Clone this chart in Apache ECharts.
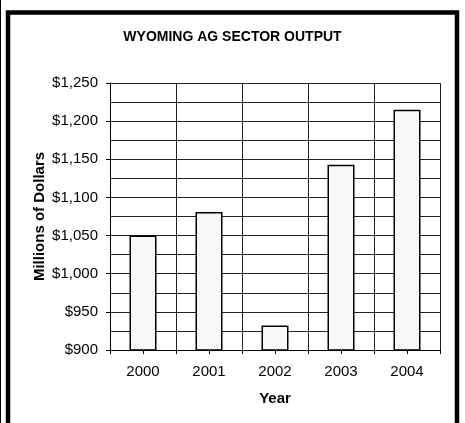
<!DOCTYPE html>
<html><head><meta charset="utf-8">
<script src="https://cdn.jsdelivr.net/npm/echarts@6/dist/echarts.min.js"></script>
<style>html,body{margin:0;padding:0;background:#fff;}#c{width:465px;height:423px;}</style>
</head><body><div id="c"></div>
<script>
const years = ['2000','2001','2002','2003','2004'];
const output = [1050, 1081, 932, 1143, 1215];
const yTicks = [900, 950, 1000, 1050, 1100, 1150, 1200, 1250];

const chart = echarts.init(document.getElementById('c'), null, {renderer:'canvas'});
const fmt = v => '$' + v.toLocaleString('en-US');
chart.setOption({
  animation:false,
  backgroundColor:'#fff',
  textStyle:{fontFamily:'Liberation Sans, Arial, sans-serif'},
  title:{text:'WYOMING AG SECTOR OUTPUT', left:'center', top:25,
    textStyle:{fontSize:14, fontWeight:'bold', color:'#000', fontFamily:'Liberation Sans, Arial, sans-serif'}},
  grid:{left:110, right:25, top:83, bottom:73, containLabel:false},
  xAxis:[{
    type:'category', data:years, position:'bottom',
    axisLine:{show:true, lineStyle:{color:'#000', width:1}},
    axisTick:{show:true, length:4, lineStyle:{color:'#000'}},
    axisLabel:{show:true, fontSize:15, color:'#000', margin:14},
    splitLine:{show:true, lineStyle:{color:'#222', width:1}},
    name:'Year', nameLocation:'middle', nameGap:41, nameMoveOverlap:false,
    nameTextStyle:{fontSize:15, fontWeight:'bold', color:'#000'}
  },{
    type:'category', data:years, position:'bottom',
    axisLine:{show:false}, axisLabel:{show:false}, splitLine:{show:false},
    axisTick:{show:true, alignWithLabel:true, length:4, lineStyle:{color:'#000'}}
  }],
  yAxis:{
    type:'value', min:yTicks[0], max:yTicks[yTicks.length-1], interval:50,
    axisLine:{show:true, lineStyle:{color:'#000'}},
    axisTick:{show:true, length:4, lineStyle:{color:'#000'}},
    axisLabel:{fontSize:15, color:'#000', margin:12, formatter:fmt},
    splitLine:{show:true, lineStyle:{color:'#222', width:1}},
    minorTick:{show:false, splitNumber:2},
    minorSplitLine:{show:true, lineStyle:{color:'#222', width:1}},
    name:'Millions of Dollars', nameLocation:'middle', nameGap:63, nameRotate:90, nameMoveOverlap:false,
    nameTextStyle:{fontSize:15, fontWeight:'bold', color:'#000'}
  },
  series:[{
    type:'bar', data:output, barWidth:27, xAxisIndex:0,
    itemStyle:{color:'#f8f8f8', borderColor:'#000', borderWidth:1.5}
  }],
  graphic:[
    {type:'rect', shape:{x:8, y:12.5, width:449, height:440}, style:{fill:null, stroke:'#000', lineWidth:4.5}, z:100},
    {type:'line', shape:{x1:0.5, y1:0, x2:0.5, y2:423}, style:{stroke:'#000', lineWidth:1}, z:100}
  ]
});
</script></body></html>
